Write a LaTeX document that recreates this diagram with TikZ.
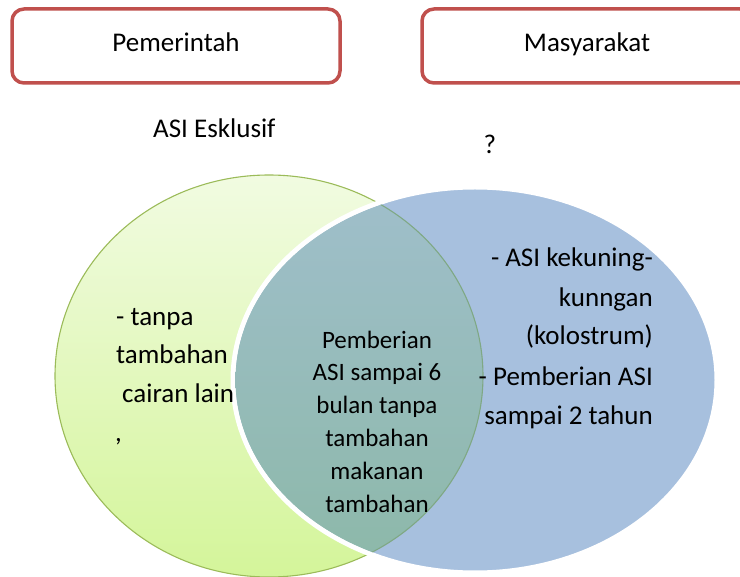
\documentclass[tikz,border=0pt]{standalone}
\usepackage{fontspec}
\setmainfont{Carlito}
\definecolor{boxred}{HTML}{C0504D}
\definecolor{greenline}{HTML}{9BBB59}
\definecolor{greentop}{HTML}{F1FBE1}
\definecolor{greenbot}{HTML}{D4F59A}
\definecolor{bluefill}{HTML}{A7C0DE}
\definecolor{lenstop}{HTML}{A0BFCC}
\definecolor{lensbot}{HTML}{8CB8A8}
\definecolor{lensline}{HTML}{7FA884}
\begin{document}
\begin{tikzpicture}[x=1pt,y=-1pt,
  txt/.style={font=\fontsize{27}{33}\selectfont, inner sep=0pt, text=black},
  ctxt/.style={font=\fontsize{25}{33}\selectfont, inner sep=0pt, text=black},
  rbox/.style={draw=boxred, line width=3.5pt, rounded corners=12pt, fill=white, inner sep=0pt}]
\useasboundingbox (0,0) rectangle (740,577);
\clip (0,0) rectangle (740,577);

% top boxes
\node[rbox, minimum width=328pt, minimum height=74pt] (pembox) at (176,46) {};
\node[rbox, minimum width=330pt, minimum height=74pt] (masbox) at (587,46) {};
\node[txt, anchor=base] (pem) at (176,52) {Pemerintah};
\node[txt, anchor=base] (mas) at (587,52) {Masyarakat};

% titles
\node[txt, anchor=base west] (asi) at (153,138) {ASI Esklusif};
\node[txt, anchor=base] (q) at (490,154) {?};

% green ellipse
\path[top color=greentop, bottom color=greenbot, draw=greenline, line width=1.1pt]
  (269,376) ellipse [x radius=214pt, y radius=201pt];
% blue ellipse with white rim
\path[fill=bluefill, draw=white, line width=5pt]
  (475,380) ellipse [x radius=242pt, y radius=193pt];
% lens
\begin{scope}
  \clip (475,380) ellipse [x radius=239.5pt, y radius=190.5pt];
  \path[top color=lenstop, bottom color=lensbot]
    (269,376) ellipse [x radius=214pt, y radius=201pt];
  \draw[lensline, line width=1.1pt]
    (269,376) ellipse [x radius=214pt, y radius=201pt];
\end{scope}

% left text
\node[txt, anchor=base west] (l1) at (116,326) {- tanpa};
\node[txt, anchor=base west] (l2) at (116,364) {tambahan};
\node[txt, anchor=base west] (l3) at (122,403) {cairan lain};
\node[txt, anchor=base west] (l4) at (115,442) {,};

% center text
\node[ctxt, anchor=base] (c1) at (377,349) {Pemberian};
\node[ctxt, anchor=base] (c2) at (377,381) {ASI sampai 6};
\node[ctxt, anchor=base] (c3) at (377,414) {bulan tanpa};
\node[ctxt, anchor=base] (c4) at (377,447) {tambahan};
\node[ctxt, anchor=base] (c5) at (377,480) {makanan};
\node[ctxt, anchor=base] (c6) at (377,513) {tambahan};

% right text
\node[txt, anchor=base east] (r1) at (653,267) {- ASI kekuning-};
\node[txt, anchor=base east] (r2) at (653,307) {kunngan};
\node[txt, anchor=base east] (r3) at (653,345) {(kolostrum)};
\node[txt, anchor=base east] (r4) at (653,386) {- Pemberian ASI};
\node[txt, anchor=base east] (r5) at (653,425) {sampai 2 tahun};
\end{tikzpicture}
\end{document}
